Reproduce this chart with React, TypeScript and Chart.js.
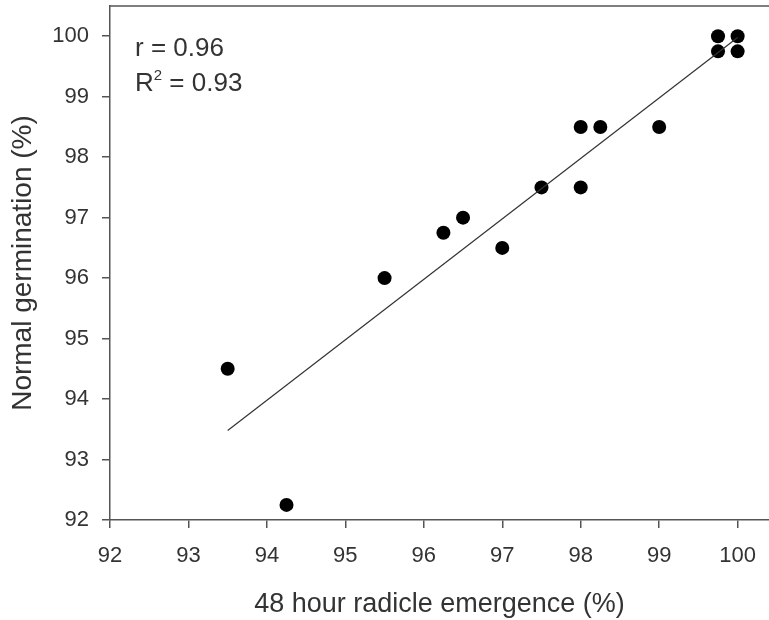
import React, { useEffect, useRef } from "react";
import { Chart, registerables } from "chart.js";

Chart.register(...registerables);

const emergenceX = [93.5, 94.25, 95.5, 96.25, 96.5, 97, 97.5, 98, 98, 98.25, 99, 99.75, 99.75, 100, 100];
const germinationY = [94.5, 92.25, 96, 96.75, 97, 96.5, 97.5, 98.5, 97.5, 98.5, 98.5, 100, 99.75, 100, 99.75];
const fitX = [93.5, 100];
const fitY = [93.48, 99.98];
const xTicks = [92, 93, 94, 95, 96, 97, 98, 99, 100];
const yTicks = [92, 93, 94, 95, 96, 97, 98, 99, 100];
const statLines = ["r = 0.96", "R", "2", " = 0.93"];

const FONT = "'Liberation Sans', Arial, sans-serif";
const INK = "#333";
const AXIS = "#555";

const annotationPlugin = {
  id: "annot",
  afterDraw(chart: any) {
    const { ctx, chartArea } = chart;
    ctx.save();
    ctx.fillStyle = INK;
    ctx.textBaseline = "alphabetic";
    ctx.textAlign = "left";
    ctx.font = `26px ${FONT}`;
    const x0 = chartArea.left + 25;
    ctx.fillText(statLines[0], x0, chartArea.top + 50);
    const y2 = chartArea.top + 85;
    ctx.fillText(statLines[1], x0, y2);
    const wR = ctx.measureText(statLines[1]).width;
    ctx.font = `15px ${FONT}`;
    ctx.fillText(statLines[2], x0 + wR, y2 - 11);
    const w2 = ctx.measureText(statLines[2]).width;
    ctx.font = `26px ${FONT}`;
    ctx.fillText(statLines[3], x0 + wR + w2, y2);
    // top frame line
    ctx.strokeStyle = AXIS;
    ctx.lineWidth = 1.5;
    ctx.beginPath();
    ctx.moveTo(chartArea.left, chartArea.top);
    ctx.lineTo(chartArea.right, chartArea.top);
    ctx.stroke();
    ctx.restore();
  },
};

export default function App() {
  const ref = useRef<HTMLCanvasElement>(null);
  useEffect(() => {
    const chart = new Chart(ref.current!, {
      type: "scatter",
      data: {
        datasets: [
          {
            type: "line",
            data: fitX.map((x, i) => ({ x, y: fitY[i] })),
            borderColor: "#333",
            borderWidth: 1.2,
            pointRadius: 0,
            fill: false,
          } as any,
          {
            data: emergenceX.map((x, i) => ({ x, y: germinationY[i] })),
            backgroundColor: "#000",
            borderColor: "#000",
            pointRadius: 7,
            borderWidth: 0,
          },
        ],
      },
      plugins: [annotationPlugin],
      options: {
        animation: false,
        responsive: false,
        maintainAspectRatio: false,
        layout: { autoPadding: false, padding: { top: 6, right: 0, left: 0, bottom: 0 } },
        plugins: { legend: { display: false }, tooltip: { enabled: false } },
        scales: {
          x: {
            type: "linear",
            min: 92,
            max: 100.4,
            afterBuildTicks: (s: any) => {
              s.ticks = xTicks.map((v) => ({ value: v }));
            },
            afterFit: (s: any) => {
              s.height = 100;
              s.paddingLeft = 0;
              s.paddingRight = 0;
            },
            grid: { drawOnChartArea: false, drawTicks: true, tickLength: 8, color: AXIS, lineWidth: 1.5 },
            border: { display: true, color: AXIS, width: 1.5 },
            ticks: { color: INK, font: { family: FONT, size: 22 }, padding: 15, maxRotation: 0 },
            title: {
              display: true,
              text: "48 hour radicle emergence (%)",
              color: INK,
              font: { family: FONT, size: 27 },
              padding: { top: 10, bottom: -1 },
            },
          },
          y: {
            type: "linear",
            min: 92,
            max: 100.5,
            afterBuildTicks: (s: any) => {
              s.ticks = yTicks.map((v) => ({ value: v }));
            },
            afterFit: (s: any) => {
              s.width = 110;
              s.paddingTop = 0;
              s.paddingBottom = 0;
            },
            grid: { drawOnChartArea: false, drawTicks: true, tickLength: 8, color: AXIS, lineWidth: 1.5 },
            border: { display: true, color: AXIS, width: 1.5 },
            ticks: { color: INK, font: { family: FONT, size: 22 }, padding: 13 },
            title: {
              display: true,
              text: "Normal germination (%)",
              color: INK,
              font: { family: FONT, size: 28 },
              padding: { bottom: 6, top: 6 },
            },
          },
        },
      } as any,
    });
    return () => chart.destroy();
  }, []);
  return (
    <div style={{ position: "absolute", left: 0, top: 0, width: 769, height: 620, background: "#fff" }}>
      <canvas ref={ref} width={769} height={620} />
    </div>
  );
}
